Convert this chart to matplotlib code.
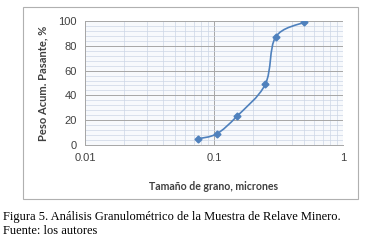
import matplotlib.pyplot as plt
import numpy as np
from matplotlib.path import Path
from matplotlib.patches import PathPatch, Rectangle
from matplotlib.ticker import LogLocator, MultipleLocator, FixedLocator

# Grain size distribution (sieve analysis)
grain_size = [0.075, 0.105, 0.15, 0.25, 0.30, 0.50]   # microns (as labelled)
passing = [5, 9, 23, 49, 87, 99]                      # cumulative % passing

x_ticks = [0.01, 0.1, 1]
x_tick_labels = ['0.01', '0.1', '1']
y_ticks = [0, 20, 40, 60, 80, 100]

line_color = '#4F81BD'
text_color = '#404040'

fig = plt.figure(figsize=(3.69, 2.42), dpi=100)

# outer chart frame (Excel style)
fig.patches.append(Rectangle((23 / 369, 1 - 199 / 242), 335 / 369, 192 / 242,
                             transform=fig.transFigure, fill=False,
                             edgecolor='#b0b0b0', linewidth=0.8))

ax = fig.add_axes([85 / 369, 1 - 145 / 242, 258 / 369, 124 / 242])
ax.set_xscale('log')
ax.set_xlim(0.01, 1)
ax.set_ylim(0, 100)
ax.set_facecolor('#f7f9fc')

# grid
ax.xaxis.set_major_locator(FixedLocator(x_ticks))
ax.xaxis.set_minor_locator(LogLocator(base=10, subs=np.arange(2, 10)))
ax.yaxis.set_major_locator(MultipleLocator(20))
ax.yaxis.set_minor_locator(MultipleLocator(4))
ax.grid(which='major', color='#a6a6a6', linewidth=0.7)
ax.grid(which='minor', color='#ccd6e6', linewidth=0.5)
ax.set_axisbelow(True)

ax.set_xticks(x_ticks)
ax.set_xticklabels(x_tick_labels)
ax.set_yticks(y_ticks)
ax.tick_params(which='both', length=0, labelsize=8, colors=text_color, pad=6)
for lab in ax.get_xticklabels() + ax.get_yticklabels():
    lab.set_family('Liberation Sans')
ax.xaxis.set_minor_formatter(plt.NullFormatter())
for s in ['top', 'right']:
    ax.spines[s].set_visible(False)
for s in ['left', 'bottom']:
    ax.spines[s].set_color('#a6a6a6')
    ax.spines[s].set_linewidth(0.7)

# smoothed line (Catmull-Rom -> cubic Bezier in log-x space)
lx = np.log10(grain_size)
py = np.array(passing, dtype=float)
n = len(lx)
verts = [(lx[0], py[0])]
codes = [Path.MOVETO]
for i in range(n - 1):
    p0 = np.array([lx[max(i - 1, 0)], py[max(i - 1, 0)]])
    p1 = np.array([lx[i], py[i]])
    p2 = np.array([lx[i + 1], py[i + 1]])
    p3 = np.array([lx[min(i + 2, n - 1)], py[min(i + 2, n - 1)]])
    c1 = p1 + (p2 - p0) / 6
    c2 = p2 - (p3 - p1) / 6
    verts += [tuple(c1), tuple(c2), tuple(p2)]
    codes += [Path.CURVE4] * 3
verts = [(10 ** vx, vy) for vx, vy in verts]
ax.add_patch(PathPatch(Path(verts, codes), facecolor='none',
                       edgecolor=line_color, linewidth=1.2))
ax.plot(grain_size, passing, linestyle='none', marker='D', markersize=3.5,
        color=line_color)

ax.set_ylabel('Peso Acum. Pasante, %', family='Lato', fontsize=8,
              fontweight='bold', color=text_color, labelpad=7)
fig.text(214 / 369, 1 - 187 / 242, 'Tamaño de grano, micrones',
         family='Lato', ha='center', va='center', fontsize=7.6,
         fontweight='bold', color=text_color)

fig.text(3 / 369, 1 - 217 / 242,
         'Figura 5. Análisis Granulométrico de la Muestra de Relave Minero.',
         family='Liberation Serif', fontsize=9, va='center')
fig.text(3 / 369, 1 - 231 / 242, 'Fuente: los autores',
         family='Liberation Serif', fontsize=9, va='center')

fig.savefig('out.png', dpi=100)
